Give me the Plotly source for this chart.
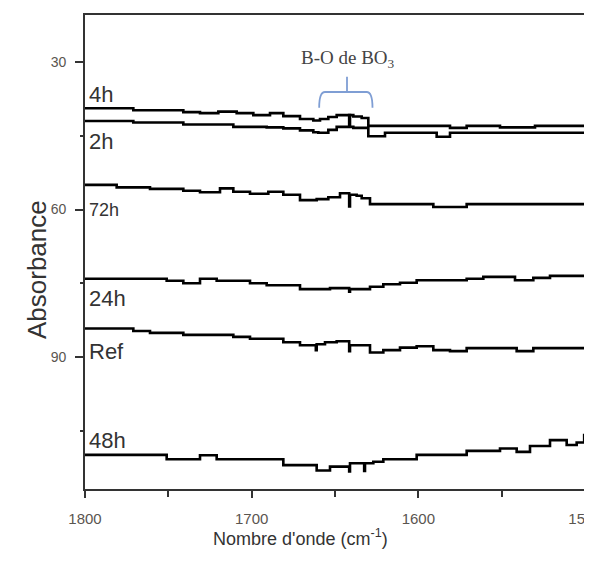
import plotly.graph_objects as go

# ---- data (wavenumber in cm-1, absorbance offset values) ----
wn_4h = [1800, 1771, 1741, 1731, 1720, 1709, 1699, 1689, 1681, 1671, 1663, 1659, 1654, 1649, 1639, 1634, 1630, 1581, 1571, 1551, 1530, 1500]
ab_4h = [39.4, 39.8, 40.2, 40.4, 40.1, 40.4, 40.8, 40.4, 41.0, 41.6, 41.9, 41.6, 41.2, 40.8, 41.1, 41.4, 43.0, 43.4, 43.0, 43.3, 43.0, 43.0]

wn_2h = [1800, 1771, 1741, 1711, 1691, 1681, 1671, 1663, 1660, 1654, 1649, 1641.5, 1641, 1639, 1630, 1620, 1589, 1581, 1500]
ab_2h = [42.0, 42.3, 42.7, 43.2, 43.3, 43.5, 43.9, 44.3, 44.4, 43.8, 43.2, 40.8, 43.2, 43.4, 45.1, 44.4, 45.2, 44.4, 44.5]

wn_72h = [1800, 1781, 1761, 1741, 1731, 1719, 1711, 1701, 1690, 1681, 1671, 1661, 1654, 1647, 1641.5, 1641, 1637, 1634, 1629, 1591, 1571, 1500]
ab_72h = [55.0, 55.5, 55.8, 56.2, 56.5, 55.7, 56.4, 56.8, 56.4, 57.0, 58.1, 57.9, 57.5, 56.7, 59.4, 57.0, 57.2, 57.7, 58.9, 59.5, 58.9, 58.9]

wn_24h = [1800, 1751, 1741, 1731, 1721, 1701, 1691, 1671, 1653, 1641.5, 1641, 1629, 1621, 1611, 1601, 1571, 1561, 1542, 1531, 1521, 1500]
ab_24h = [74.1, 74.5, 75.0, 74.1, 74.5, 75.0, 75.4, 76.2, 76.0, 76.7, 76.2, 75.7, 75.2, 74.9, 74.4, 74.1, 73.7, 74.4, 73.9, 73.5, 73.5]

wn_ref = [1800, 1771, 1761, 1741, 1711, 1701, 1681, 1671, 1661.5, 1661, 1656, 1649, 1641.5, 1641, 1629, 1621, 1611, 1601, 1591, 1581, 1571, 1541, 1531, 1500]
ab_ref = [84.2, 84.7, 85.1, 85.5, 85.9, 86.3, 87.0, 87.6, 88.6, 87.4, 87.0, 86.8, 88.8, 87.6, 89.1, 88.6, 88.1, 87.8, 88.6, 88.8, 88.2, 88.8, 88.2, 88.2]

wn_48h = [1800, 1751, 1731, 1721, 1681, 1661, 1653, 1641.5, 1641, 1632.5, 1632, 1627, 1621, 1601, 1571, 1551, 1541, 1533, 1521, 1511, 1505, 1500.5, 1500]
ab_48h = [109.9, 110.8, 110.0, 110.8, 112.0, 113.1, 112.3, 113.3, 111.6, 113.2, 111.6, 111.3, 110.8, 109.9, 109.1, 108.6, 109.3, 108.1, 106.9, 107.9, 107.4, 105.9, 105.9]

series_names = ["4h", "2h", "72h", "24h", "Ref", "48h"]
series_x = [wn_4h, wn_2h, wn_72h, wn_24h, wn_ref, wn_48h]
series_y = [ab_4h, ab_2h, ab_72h, ab_24h, ab_ref, ab_48h]
label_y = [36.7, 46.2, 60.1, 78.1, 88.8, 106.9]
label_size = [22, 22, 18, 22, 22, 22]

y_ticks = [30, 60, 90]
x_ticks = [1800, 1700, 1600, 1500]

fig = go.Figure()
for name, xs, ys in zip(series_names, series_x, series_y):
    fig.add_trace(go.Scatter(x=xs, y=ys, mode="lines", name=name,
                             line=dict(color="black", width=2.6, shape="hv"),
                             showlegend=False))

for name, ly, fs in zip(series_names, label_y, label_size):
    fig.add_annotation(x=1798.6, y=ly, text=name, showarrow=False,
                       xanchor="left", yanchor="middle",
                       font=dict(family="Arial, Liberation Sans", size=fs, color="#333333"))

# B-O de BO3 annotation and bracket
fig.add_annotation(x=1642, y=29.3, text="B-O de BO<sub>3</sub>", showarrow=False,
                   font=dict(family="Times New Roman, Liberation Serif", size=19, color="#444444"))
fig.add_shape(type="path", xref="x", yref="y",
              path="M 1659.5,39.3 Q 1659.5,36.1 1656,36.1 L 1631,36.1 Q 1627.5,36.1 1627.5,39.3",
              line=dict(color="#7f9ed4", width=1.8))
fig.add_shape(type="line", xref="x", yref="y", x0=1642.8, x1=1642.8, y0=36.1, y1=33.0,
              line=dict(color="#7f9ed4", width=1.8))

# axis titles
fig.add_annotation(xref="paper", yref="paper", x=0.43, y=-0.131,
                   text="Nombre d'onde (cm<sup>-1</sup>)", showarrow=False,
                   font=dict(family="Arial, Liberation Sans", size=18, color="#333333"))
fig.add_annotation(xref="paper", yref="paper", x=-0.13, y=0.462, textangle=-90,
                   text="Absorbance", showarrow=False,
                   font=dict(family="Arial, Liberation Sans", size=26, color="#333333"))

fig.update_xaxes(range=[1800, 1500], tickvals=x_ticks, ticks="outside", ticklen=7,
                 tickwidth=1.5, tickcolor="#333", showline=True, linecolor="#333",
                 linewidth=1.6, mirror=True, showgrid=False, zeroline=False,
                 ticklabelstandoff=8, automargin=False, ticklabeloverflow="allow",
                 minor=dict(dtick=50, ticks="outside", ticklen=6, tickcolor="#333", tickwidth=1.5),
                 tickfont=dict(family="Arial, Liberation Sans", size=15, color="#5a5550"))
fig.update_yaxes(range=[116.85, 20.44], tickvals=y_ticks, ticks="outside", ticklen=8,
                 tickwidth=1.5, tickcolor="#333", showline=True, linecolor="#333",
                 linewidth=1.6, mirror=True, showgrid=False, zeroline=False,
                 ticklabelstandoff=6, automargin=False,
                 minor=dict(dtick=15, tick0=0, ticks="outside", ticklen=3, tickcolor="#333", tickwidth=1.5),
                 tickfont=dict(family="Arial, Liberation Sans", size=14, color="#5a5550"))

fig.update_layout(width=592, height=563, margin=dict(l=77, r=15, t=7, b=82, autoexpand=False),
                  plot_bgcolor="white", paper_bgcolor="white")

fig.write_html("out.html")
